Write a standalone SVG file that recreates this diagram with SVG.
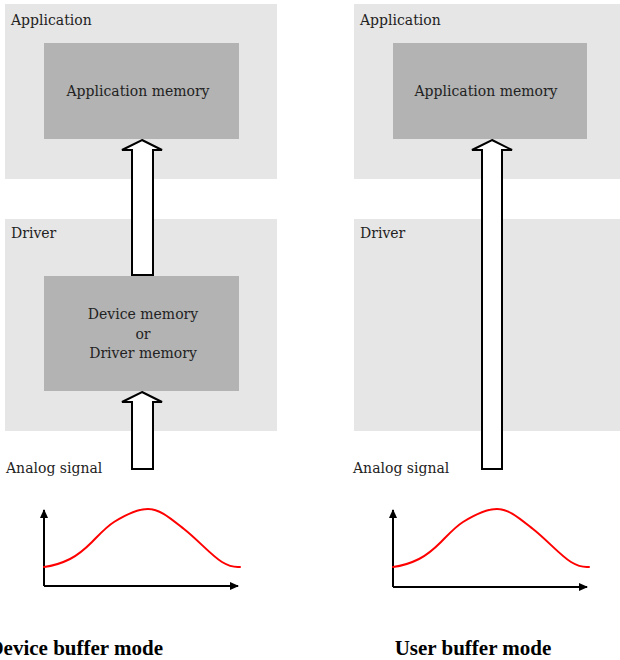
<svg xmlns="http://www.w3.org/2000/svg" width="620" height="660" viewBox="0 0 620 660">
<defs>
<style>
.bg{fill:#e6e6e6}
.mem{fill:#b3b3b3}
.lbl{font-family:"DejaVu Serif","Liberation Serif",serif;font-size:14px;fill:#222}
.ctr{text-anchor:middle}
.cap{font-family:"Liberation Serif","Times New Roman",serif;font-size:21px;font-weight:bold;fill:#000}
.arr{fill:#fff;stroke:#000;stroke-width:2;stroke-linejoin:miter}
.axis{fill:none;stroke:#000;stroke-width:2}
.sig{fill:none;stroke:#f00;stroke-width:2;stroke-linejoin:round;stroke-linecap:round}
</style>
<marker id="ah" markerWidth="10" markerHeight="10" refX="8" refY="4" orient="auto" markerUnits="userSpaceOnUse">
<path d="M0,0 L9,4 L0,8 Z" fill="#000"/>
</marker>
</defs>

<g id="left-application">
<rect class="bg" x="5" y="4" width="272" height="175"/>
<text class="lbl" x="11" y="25">Application</text>
</g>
<g id="left-app-memory">
<rect class="mem" x="44" y="43" width="195" height="96"/>
<text class="lbl ctr" x="138" y="96">Application memory</text>
</g>
<g id="left-driver">
<rect class="bg" x="5" y="219" width="272" height="212"/>
<text class="lbl" x="11" y="238">Driver</text>
</g>
<g id="left-device-memory">
<rect class="mem" x="44" y="276" width="195" height="115"/>
<text class="lbl ctr" x="143" y="319">Device memory</text>
<text class="lbl ctr" x="143" y="339">or</text>
<text class="lbl ctr" x="143" y="358">Driver memory</text>
</g>
<g id="left-analog">
<text class="lbl" x="6" y="473">Analog signal</text>
<path class="axis" d="M44,586 L44,510" marker-end="url(#ah)"/>
<path class="axis" d="M44,586 L238,586" marker-end="url(#ah)"/>
<path class="sig" d="M44,567 C52,566 60,564 70,559 S86,548 92,542 S106,527 114,522 S136,509 148,509 S170,518 184,529 S212,556 222,562 S236,567 240,567"/>
</g>
<g id="left-caption">
<text class="cap" x="163" y="655" text-anchor="end">Device buffer mode</text>
</g>

<g id="right-application">
<rect class="bg" x="354" y="4" width="266" height="175"/>
<text class="lbl" x="360" y="25">Application</text>
</g>
<g id="right-app-memory">
<rect class="mem" x="393" y="43" width="194" height="96"/>
<text class="lbl ctr" x="486" y="96">Application memory</text>
</g>
<g id="right-driver">
<rect class="bg" x="354" y="219" width="266" height="212"/>
<text class="lbl" x="360" y="238">Driver</text>
</g>
<g id="right-analog">
<text class="lbl" x="353" y="473">Analog signal</text>
<path class="axis" d="M393,587 L393,510" marker-end="url(#ah)"/>
<path class="axis" d="M393,587 L587,587" marker-end="url(#ah)"/>
<path class="sig" d="M393,567 C401,566 409,564 419,559 S435,548 441,542 S455,527 463,522 S485,509 497,509 S519,518 533,529 S561,556 571,562 S585,567 589,567"/>
</g>
<g id="right-caption">
<text class="cap" x="473" y="655" text-anchor="middle">User buffer mode</text>
</g>

<g id="connectors">
<polygon class="arr" points="142,140 162,150 153,150 153,275 132,275 132,150 122,150"/>
<polygon class="arr" points="142,392 162,402 153,402 153,469 132,469 132,402 122,402"/>
<polygon class="arr" points="492,140 512,150 502,150 502,469 482,469 482,150 472,150"/>
</g>
</svg>
